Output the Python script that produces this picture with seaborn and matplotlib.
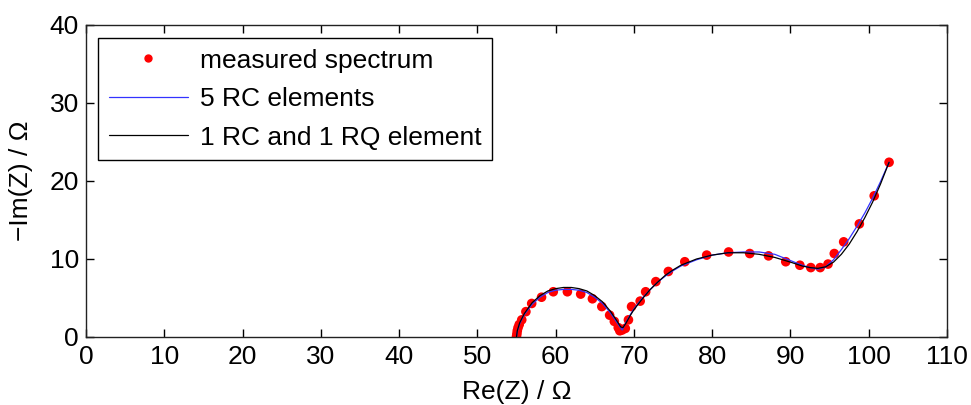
import matplotlib
matplotlib.use("Agg")
import matplotlib.pyplot as plt
import seaborn as sns
import pandas as pd
from matplotlib.lines import Line2D

# measured spectrum
meas_re = [55.0, 55.05, 55.1, 55.2, 55.35, 55.67, 56.2, 56.94, 58.2, 59.7, 61.5, 63.2,
           64.7, 65.9, 66.9, 67.5, 68.0, 68.2, 68.5, 68.9, 69.3, 69.7, 70.8, 71.5,
           72.8, 74.4, 76.5, 79.3, 82.1, 84.8, 87.2, 89.4, 91.2, 92.6, 93.8, 94.8,
           95.6, 96.8, 98.8, 100.7, 102.6]
meas_im = [0.05, 0.4, 0.8, 1.2, 1.6, 2.2, 3.25, 4.3, 5.1, 5.8, 5.8, 5.5,
           4.9, 3.9, 2.8, 2.0, 1.2, 0.8, 0.9, 1.1, 2.2, 3.9, 4.6, 5.8,
           7.1, 8.4, 9.65, 10.5, 10.9, 10.7, 10.4, 9.65, 9.2, 8.9, 8.9, 9.35,
           10.7, 12.2, 14.5, 18.1, 22.4]

# fit: 5 RC elements
rc5_re = [55.0, 55.1, 55.4, 56.0, 57.0, 58.0, 59.0, 60.0, 61.0, 62.0, 63.0, 64.0,
          65.0, 66.0, 67.0, 67.8, 68.5, 69.0, 69.5, 70.0, 71.0, 72.0, 73.0, 74.0,
          75.0, 76.0, 78.0, 80.0, 82.0, 84.0, 86.0, 88.0, 90.0, 91.5, 92.5, 93.5,
          94.5, 95.5, 96.5, 97.5, 98.5, 99.5, 100.5, 101.5, 102.6]
rc5_im = [0.0, 0.7, 1.7, 2.9, 4.2, 5.1, 5.7, 6.0, 6.1, 6.1, 6.0, 5.7,
          5.1, 4.3, 3.1, 1.9, 0.9, 1.9, 2.8, 3.6, 4.9, 6.0, 7.0, 7.8,
          8.5, 9.1, 9.9, 10.5, 10.8, 10.9, 10.9, 10.6, 9.8, 9.2, 8.9, 8.7,
          9.0, 9.9, 11.2, 12.6, 14.2, 15.9, 17.8, 19.9, 22.4]

# fit: 1 RC and 1 RQ element
rq_re = [55.0, 55.1, 55.4, 56.0, 57.0, 58.0, 59.0, 60.0, 61.0, 62.0, 63.0, 64.0,
         65.0, 66.0, 67.0, 67.8, 68.3, 68.6, 69.0, 69.5, 70.0, 71.0, 72.0, 73.0,
         74.0, 75.0, 76.0, 78.0, 80.0, 82.0, 84.0, 86.0, 88.0, 90.0, 91.5, 92.5,
         93.5, 94.5, 95.5, 96.5, 97.5, 98.5, 99.5, 100.5, 101.5, 102.6]
rq_im = [0.0, 0.8, 1.8, 3.0, 4.4, 5.3, 5.9, 6.2, 6.35, 6.35, 6.2, 5.9,
         5.3, 4.5, 3.3, 2.1, 1.3, 1.2, 1.8, 2.7, 3.5, 4.8, 6.0, 7.0,
         7.9, 8.6, 9.2, 10.0, 10.5, 10.8, 10.8, 10.6, 10.2, 9.6, 9.1, 8.9,
         8.8, 9.0, 9.6, 10.6, 11.9, 13.5, 15.3, 17.3, 19.6, 22.4]

labels = ["measured spectrum", "5 RC elements", "1 RC and 1 RQ element"]
xticks = list(range(0, 111, 10))
yticks = list(range(0, 41, 10))

sns.set_theme(style="ticks")
plt.rcParams["font.family"] = ["Liberation Sans", "DejaVu Sans"]
plt.rcParams["xtick.direction"] = "in"
plt.rcParams["ytick.direction"] = "in"

FS = 19

fig = plt.figure(figsize=(9.71, 4.05), dpi=100)
ax = fig.add_axes([86/971, (405-337)/405, (947-86)/971, (337-25)/405])

df_m = pd.DataFrame({"re": meas_re, "im": meas_im})
df_b = pd.DataFrame({"re": rc5_re, "im": rc5_im})
df_k = pd.DataFrame({"re": rq_re, "im": rq_im})

sns.scatterplot(data=df_m, x="re", y="im", ax=ax, color="#ff0000", s=48,
                edgecolor="none", zorder=2, legend=False)
sns.lineplot(data=df_b, x="re", y="im", ax=ax, color="#3333ff", lw=0.9,
             sort=False, estimator=None, zorder=3, legend=False)
sns.lineplot(data=df_k, x="re", y="im", ax=ax, color="black", lw=0.9,
             sort=False, estimator=None, zorder=4, legend=False)

ax.set_xlim(0, 110)
ax.set_ylim(0, 40)
ax.set_xticks(xticks)
ax.set_yticks(yticks)
ax.tick_params(axis="both", which="both", direction="in", top=True, right=True,
               length=6, width=1, labelsize=FS, colors="black", labelcolor="black")
ax.tick_params(axis="x", pad=6)
ax.tick_params(axis="y", pad=5)
for sp in ax.spines.values():
    sp.set_visible(True)
    sp.set_color("#222222")
    sp.set_linewidth(1.0)

ax.set_xlabel("Re(Z) / Ω", fontsize=FS, labelpad=8, color="black")
ax.set_ylabel("−Im(Z) / Ω", fontsize=FS, labelpad=12, color="black")

handles = [
    Line2D([], [], ls="none", marker="o", color="#ff0000", markersize=5),
    Line2D([], [], color="#3333ff", lw=0.9),
    Line2D([], [], color="black", lw=0.9),
]
leg = ax.legend(handles, labels, loc="upper left", bbox_to_anchor=(0.014, 0.958),
                fontsize=FS, frameon=True, fancybox=False, edgecolor="black",
                framealpha=1, handlelength=3.0, handletextpad=0.45,
                labelspacing=0.55, borderpad=0.4, borderaxespad=0)
leg.get_frame().set_linewidth(1.0)
for t in leg.get_texts():
    t.set_color("black")

fig.savefig("out.png", dpi=100)
